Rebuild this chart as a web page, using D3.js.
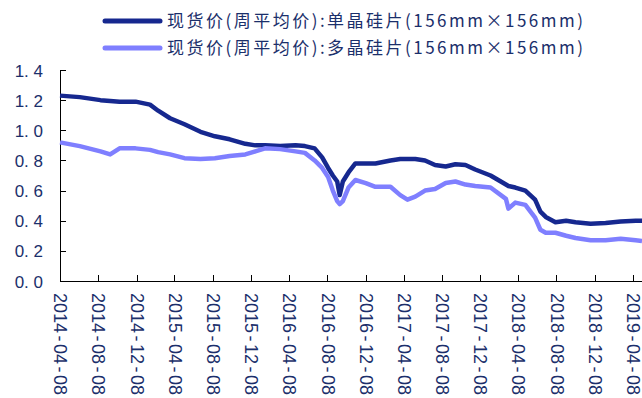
<!DOCTYPE html>
<html lang="zh">
  <head>
    <meta charset="UTF-8">
    <title>硅片现货价</title>
    <style>
      body { margin: 0; background: #fff; }
      svg { display: block; }
      .axis path, .axis line { stroke: #000; shape-rendering: crispEdges; }
      .axis text { fill: #1b2f6b; font-family: Arial, "Liberation Sans", sans-serif; }
      .legend text { fill: #1b2f6b; font-family: "Noto Sans CJK SC", sans-serif; font-size: 17px; }
    </style>
  </head>
  <body>
    <svg id="chart"></svg>

    <script src="https://cdn.jsdelivr.net/npm/d3@7/dist/d3.min.js"></script>

    <script>
      // Weekly spot price (yuan/piece)
      var dates = [
        "2014-04-08", "2014-06-10", "2014-08-15", "2014-09-15", "2014-10-15", "2014-12-05",
        "2015-01-20", "2015-02-15", "2015-03-25", "2015-05-10", "2015-06-30", "2015-08-15",
        "2015-10-01", "2015-11-20", "2015-12-22", "2016-01-22", "2016-03-10", "2016-04-28",
        "2016-05-28", "2016-06-28", "2016-07-22", "2016-08-10", "2016-08-25", "2016-09-08",
        "2016-09-16", "2016-09-26", "2016-10-14", "2016-11-05", "2016-12-08", "2017-01-08",
        "2017-02-25", "2017-03-28", "2017-04-20", "2017-05-15", "2017-06-15", "2017-07-17",
        "2017-08-20", "2017-09-20", "2017-10-22", "2017-11-22", "2018-01-10", "2018-02-28",
        "2018-03-08", "2018-03-30", "2018-05-01", "2018-06-01", "2018-06-18", "2018-07-05",
        "2018-08-05", "2018-09-08", "2018-10-08", "2018-11-25", "2019-01-12", "2019-03-01",
        "2019-04-18", "2019-05-08"
      ];

      var mono = [
        1.23, 1.22, 1.20, 1.195, 1.19, 1.19,
        1.17, 1.13, 1.08, 1.04, 0.99, 0.96,
        0.94, 0.91, 0.90, 0.90, 0.895, 0.90,
        0.895, 0.88, 0.82, 0.75, 0.70, 0.66,
        0.57, 0.66, 0.72, 0.78, 0.78, 0.78,
        0.80, 0.81, 0.81, 0.81, 0.80, 0.77,
        0.76, 0.775, 0.77, 0.74, 0.70, 0.64,
        0.63, 0.62, 0.60, 0.54, 0.46, 0.425,
        0.39, 0.40, 0.39, 0.38, 0.385, 0.395,
        0.40, 0.40
      ];

      var poly = [
        0.92, 0.895, 0.86, 0.84, 0.88, 0.88,
        0.87, 0.855, 0.84, 0.815, 0.81, 0.815,
        0.83, 0.84, 0.86, 0.88, 0.875, 0.86,
        0.85, 0.80, 0.75, 0.69, 0.60, 0.53,
        0.51, 0.53, 0.62, 0.67, 0.65, 0.625,
        0.625, 0.57, 0.54, 0.56, 0.60, 0.61,
        0.65, 0.66, 0.64, 0.63, 0.62, 0.545,
        0.48, 0.52, 0.505, 0.42, 0.34, 0.32,
        0.32, 0.30, 0.285, 0.27, 0.27, 0.28,
        0.27, 0.265
      ];

      var seriesNames = [
        "现货价(周平均价):单晶硅片(156mm×156mm)",
        "现货价(周平均价):多晶硅片(156mm×156mm)"
      ];
      var seriesColors = ["#16288f", "#7f7fff"];

      var tickLabels = [
        "2014-04-08", "2014-08-08", "2014-12-08", "2015-04-08", "2015-08-08", "2015-12-08",
        "2016-04-08", "2016-08-08", "2016-12-08", "2017-04-08", "2017-08-08", "2017-12-08",
        "2018-04-08", "2018-08-08", "2018-12-08", "2019-04-08"
      ];
      var yTicks = [0, 0.2, 0.4, 0.6, 0.8, 1.0, 1.2, 1.4];

      var width = 642, height = 398;
      var parse = d3.timeParse("%Y-%m-%d");

      var svg = d3.select("#chart")
        .attr("width", width)
        .attr("height", height);

      var x = d3.scaleTime()
        .domain([parse(dates[0]), parse(dates[dates.length - 1])])
        .range([60, 642]);

      var y = d3.scaleLinear()
        .domain([0, 1.4])
        .range([281, 70]);

      // Y axis, ticks point inward
      var yAxis = svg.append("g")
        .attr("class", "axis")
        .attr("transform", "translate(60,0)")
        .call(d3.axisLeft(y)
          .tickValues(yTicks)
          .tickSizeInner(-6)
          .tickSizeOuter(0)
          .tickPadding(17)
          .tickFormat(function(d) { return d3.format(".1f")(d).replace(".", ". "); }));

      yAxis.selectAll("text")
        .style("font-size", "17px")
        .attr("dy", "0.36em");

      // X axis with rotated date labels
      var xAxis = svg.append("g")
        .attr("class", "axis")
        .attr("transform", "translate(0,281)")
        .call(d3.axisBottom(x)
          .tickValues(tickLabels.map(parse))
          .tickSizeInner(-6)
          .tickSizeOuter(0)
          .tickFormat(d3.timeFormat("%Y-%m-%d")));

      // rebuild each label so the dashes get a bit of room either side
      xAxis.selectAll(".tick text")
        .style("font-size", "18px")
        .attr("text-anchor", "start")
        .attr("dy", "0.35em")
        .attr("transform", "translate(0,12) rotate(90)")
        .attr("x", 0)
        .attr("y", 0)
        .each(function(d) {
          var parts = d3.timeFormat("%Y-%m-%d")(d).split("-");
          var t = d3.select(this).text(null);
          parts.forEach(function(p, i) {
            if (i > 0) t.append("tspan").attr("dx", 2.5).text("-");
            t.append("tspan").attr("dx", i > 0 ? 2.5 : 0).text(p);
          });
        });

      // The two price lines
      var line = d3.line()
        .x(function(d) { return x(d.date); })
        .y(function(d) { return y(d.value); });

      [mono, poly].forEach(function(values, i) {
        var points = values.map(function(v, j) { return { date: parse(dates[j]), value: v }; });
        svg.append("path")
          .datum(points)
          .attr("fill", "none")
          .attr("stroke", seriesColors[i])
          .attr("stroke-width", 4.5)
          .attr("stroke-linejoin", "round")
          .attr("d", line);
      });

      // Legend at the top
      var legend = svg.append("g").attr("class", "legend");
      seriesNames.forEach(function(name, i) {
        var ly = 21 + i * 27;
        legend.append("line")
          .attr("x1", 105).attr("x2", 160)
          .attr("y1", ly).attr("y2", ly)
          .attr("stroke", seriesColors[i])
          .attr("stroke-width", 5)
          .attr("stroke-linecap", "round");
        legend.append("text")
          .attr("x", 167)
          .attr("y", ly)
          .attr("dy", "0.35em")
          .attr("textLength", 416)
          .attr("lengthAdjust", "spacing")
          .text(name);
      });
    </script>
  </body>
</html>
